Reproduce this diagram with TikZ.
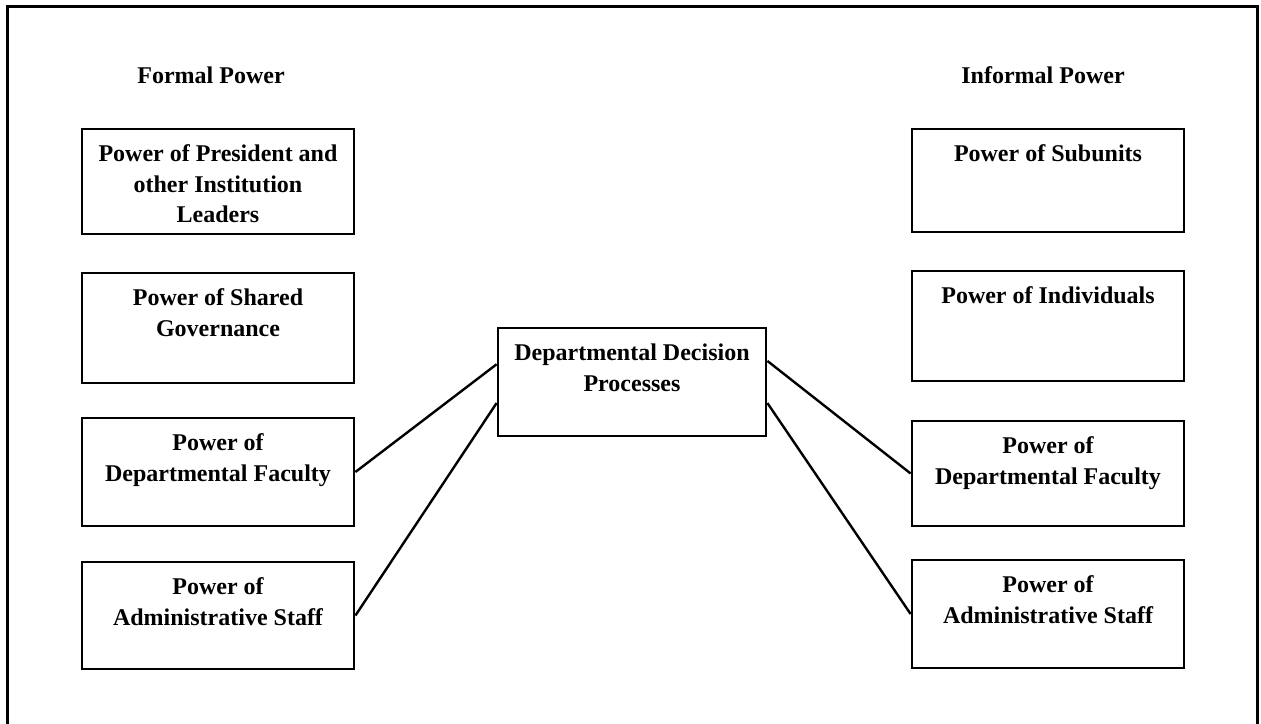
\documentclass[tikz,border=0pt]{standalone}
\usepackage{fontspec}
\setmainfont{Liberation Serif}
\usepackage{tikz}
\usetikzlibrary{positioning, calc}

\tikzset{
  powerbox/.style={draw, line width=1.4pt, minimum width=136pt, inner sep=0pt},
  boxtext/.style={font=\bfseries\fontsize{12}{15.2}\selectfont, align=center, inner sep=0pt, anchor=north},
  heading/.style={font=\bfseries\fontsize{12}{15.2}\selectfont, inner sep=0pt},
  link/.style={line width=1.2pt}
}

\begin{document}
\begin{tikzpicture}[x=0.5pt,y=-0.5pt]
  \useasboundingbox (0,0) rectangle (1261,723);
  \draw[line width=1.5pt] (7,6) rectangle (1257,760);

  % column titles
  \node[heading] (formal) at (211,75) {Formal Power};
  \node[heading] (informal) at (1043,75) {Informal Power};

  % formal side
  \node[powerbox, minimum height=52.5pt] (f1) at (218,181.5) {};
  \node[boxtext] (f1t) at ([yshift=-8.5pt]f1.north) {Power of President and\\other Institution\\Leaders};
  \node[powerbox, minimum height=55pt] (f2) at (218,328) {};
  \node[boxtext] (f2t) at ([yshift=-8.5pt]f2.north) {Power of Shared\\Governance};
  \node[powerbox, minimum height=54pt] (f3) at (218,472) {};
  \node[boxtext] (f3t) at ([yshift=-8.5pt]f3.north) {Power of\\Departmental Faculty};
  \node[powerbox, minimum height=53.5pt] (f4) at (218,615.5) {};
  \node[boxtext] (f4t) at ([yshift=-8.5pt]f4.north) {Power of\\Administrative Staff};

  % informal side
  \node[powerbox, minimum height=51.5pt] (i1) at (1048,180.5) {};
  \node[boxtext] (i1t) at ([yshift=-8.5pt]i1.north) {Power of Subunits};
  \node[powerbox, minimum height=55pt] (i2) at (1048,326) {};
  \node[boxtext] (i2t) at ([yshift=-8.5pt]i2.north) {Power of Individuals};
  \node[powerbox, minimum height=52.5pt] (i3) at (1048,473.5) {};
  \node[boxtext] (i3t) at ([yshift=-8.5pt]i3.north) {Power of\\Departmental Faculty};
  \node[powerbox, minimum height=54pt] (i4) at (1048,614) {};
  \node[boxtext] (i4t) at ([yshift=-8.5pt]i4.north) {Power of\\Administrative Staff};

  % decision box
  \node[powerbox, minimum width=134pt, minimum height=54pt] (dec) at (632,382) {};
  \node[boxtext] (dect) at ([yshift=-8.5pt]dec.north) {Departmental Decision\\Processes};

  \draw[link] (f3.east) -- ($(dec.north west)!0.34!(dec.south west)$);
  \draw[link] (f4.east) -- ($(dec.north west)!0.69!(dec.south west)$);
  \draw[link] (i3.west) -- ($(dec.north east)!0.31!(dec.south east)$);
  \draw[link] (i4.west) -- ($(dec.north east)!0.69!(dec.south east)$);
\end{tikzpicture}
\end{document}
